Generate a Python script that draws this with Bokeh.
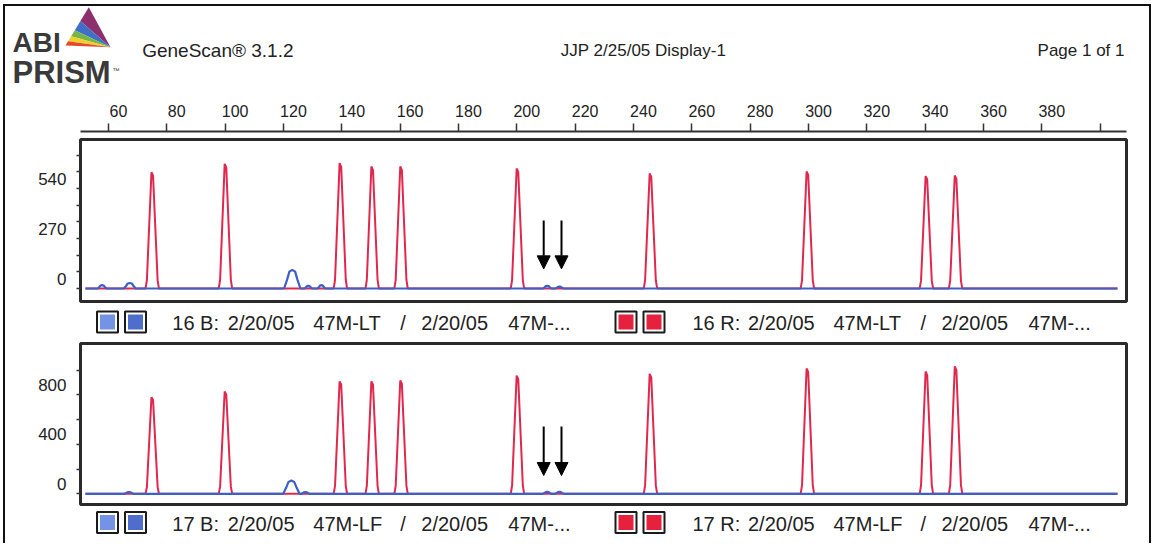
from bokeh.plotting import figure
from bokeh.layouts import column, row
from bokeh.models import Range1d, LinearAxis, FixedTicker, Arrow, NormalHead
from bokeh.core.properties import value
from bokeh.embed import file_html
from bokeh.resources import INLINE

# ---------------- data ----------------
size_ticks = [60, 80, 100, 120, 140, 160, 180, 200, 220, 240, 260, 280, 300,
              320, 340, 360, 380, 400]
size_tick_labels = [60, 80, 100, 120, 140, 160, 180, 200, 220, 240, 260, 280,
                    300, 320, 340, 360, 380]

# red (size standard) peaks: size in bp, height in RFU
red_sizes = [75.0, 100.1, 139.5, 150.4, 160.3, 200.2, 245.8, 299.6, 340.4, 350.4]
red_heights_16 = [628, 673, 677, 659, 659, 648, 621, 632, 607, 610]
red_heights_17 = [781, 827, 909, 909, 916, 956, 970, 1013, 989, 1030]

# blue peaks
blue_sizes_16 = [57.8, 67.3, 123.0, 128.5, 133.0, 210.4, 214.6]
blue_heights_16 = [18, 30, 101, 14, 18, 14, 10]
blue_widths_16 = [1.5, 2.0, 2.8, 1.3, 1.3, 1.4, 1.4]

blue_sizes_17 = [67.0, 122.7, 127.5, 210.4, 214.6]
blue_heights_17 = [14, 107, 14, 16, 16]
blue_widths_17 = [1.5, 2.8, 1.3, 1.4, 1.4]

red_width = 2.3
trace_range = [52.1, 405.9]

y16_major = [0, 270, 540]
y16_minor = [90, 180, 360, 450, 630, 720]
y17_major = [0, 400, 800]
y17_minor = [200, 600, 1000]

arrow_sizes = [209.2, 215.3]
arrow_16 = [367, 106]   # top, tip
arrow_17 = [544, 148]

header_left = "GeneScan\u00ae 3.1.2"
header_mid = "JJP 2/25/05 Display-1"
header_right = "Page 1 of 1"

blue_label_16 = ["16 B:", "2/20/05", "47M-LT", "/", "2/20/05", "47M-..."]
red_label_16 = ["16 R:", "2/20/05", "47M-LT", "/", "2/20/05", "47M-..."]
blue_label_17 = ["17 B:", "2/20/05", "47M-LF", "/", "2/20/05", "47M-..."]
red_label_17 = ["17 R:", "2/20/05", "47M-LF", "/", "2/20/05", "47M-..."]

# ---------------- styles ----------------
W = 1153
BL, BR = 80, 27          # panel borders (frame from x=80 to x=1126)
RED = "#e0284e"
BLUE = "#3c61c6"
INK = "#222222"
TICK = "#333333"
FRAME = "#2a2a2a"
FONT = "Liberation Sans"
X_RANGE = Range1d(50.4, 409.0)
X_LABEL_SHIFT = 3.4      # labels sit ~10px right of their ticks

RED_PROFILE = [(-1.0, 0.0), (-0.8, 0.07), (-0.12, 1.0), (0.12, 0.97), (0.8, 0.07), (1.0, 0.0)]
BLUE_PROFILE = [(-1.0, 0.0), (-0.65, 0.45), (-0.35, 0.9), (0.0, 1.0), (0.35, 0.9), (0.65, 0.45), (1.0, 0.0)]


def trace(sizes, heights, widths, profile):
    xs, ys = [trace_range[0]], [0]
    for s, h, w in sorted(zip(sizes, heights, widths)):
        for dx, fy in profile:
            xs.append(s + dx * w)
            ys.append(h * fy)
    xs.append(trace_range[1])
    ys.append(0)
    return xs, ys


def base_fig(height, x_range, y_range, **kw):
    p = figure(width=W, height=height, x_range=x_range, y_range=y_range,
               output_backend="svg", toolbar_location=None,
               x_axis_location=None, y_axis_location=None, **kw)
    p.grid.visible = False
    p.background_fill_color = None
    p.border_fill_color = None
    return p


def tick_axis(ticks, minor, tick_len, **kw):
    # ticks (and line) only; its labels are empty and not drawn
    return LinearAxis(ticker=FixedTicker(ticks=ticks, minor_ticks=minor),
                      major_tick_out=tick_len, major_tick_in=0,
                      minor_tick_out=tick_len, minor_tick_in=0,
                      major_label_overrides={t: "" for t in ticks},
                      major_label_text_color=None, major_label_text_font_size="1px",
                      major_label_standoff=0,
                      major_tick_line_color=TICK, minor_tick_line_color=TICK,
                      major_tick_line_width=1.5, minor_tick_line_width=1.5, **kw)


def label_axis(values, shift, standoff, size="16px"):
    # labels only, drawn next to (but offset from) their ticks
    pos = [v + shift for v in values]
    return LinearAxis(ticker=FixedTicker(ticks=pos, minor_ticks=[]),
                      major_tick_out=0, major_tick_in=0, minor_tick_out=0, minor_tick_in=0,
                      major_tick_line_color=None, minor_tick_line_color=None,
                      axis_line_color=None, major_label_standoff=standoff,
                      major_label_overrides={q: str(v) for q, v in zip(pos, values)},
                      major_label_text_font=FONT, major_label_text_font_size=size,
                      major_label_text_color=INK)


# ---------------- header (page pixel coordinates) ----------------
HH = 95
ph = base_fig(HH, Range1d(0, W), Range1d(HH, 0), min_border=0)
ph.outline_line_color = None
apex, bl, br = (88.3, 6.7), (65.0, 45.0), (110.0, 46.7)
fr = [0, 0.36, 0.6, 0.76, 0.89, 1.0]
pts = [(apex[0] + f * (bl[0] - apex[0]), apex[1] + f * (bl[1] - apex[1])) for f in fr]
wx = [[br[0], pts[i][0], pts[i + 1][0]] for i in range(5)]
wy = [[br[1], pts[i][1], pts[i + 1][1]] for i in range(5)]
ph.patches(wx, wy, fill_color=["#8c2f6f", "#3f6fc6", "#76b548", "#f2d02c", "#e5492b"],
           line_color=None)
ph.text(x=[12], y=[42], text=["ABI"], text_font=value(FONT), text_font_size="28px",
        text_font_style="bold", text_color="#3a3a3a", text_baseline="alphabetic")
ph.text(x=[12], y=[72], text=["PRISM"], text_font=value(FONT), text_font_size="31px",
        text_font_style="bold", text_color="#3a3a3a", text_baseline="alphabetic")
ph.text(x=[112], y=[70], text=["\u2122"], text_font=value(FONT), text_font_size="7px",
        text_color="#3a3a3a", text_baseline="alphabetic")
ph.text(x=[141.7], y=[49.5], text=[header_left], text_font=value(FONT),
        text_font_size="19px", text_color=INK, text_baseline="alphabetic")
ph.text(x=[643], y=[50], text=[header_mid], text_font=value(FONT),
        text_font_size="17px", text_color=INK, text_baseline="alphabetic", text_align="center")
ph.text(x=[1124], y=[50], text=[header_right], text_font=value(FONT),
        text_font_size="17px", text_color=INK, text_baseline="alphabetic", text_align="right")

# ---------------- top size axis ----------------
pa = base_fig(42, X_RANGE, Range1d(0, 1), min_border_left=BL, min_border_right=BR,
              min_border_top=36, min_border_bottom=0)
pa.outline_line_color = None
pa.add_layout(tick_axis(size_ticks, [], 8, axis_line_width=2, axis_line_color=TICK), "above")
pa.add_layout(label_axis(size_tick_labels, X_LABEL_SHIFT, 7), "above")


# ---------------- panels ----------------
def panel(height, y0, y1, major, minor, lab_shift, red_h, bsz, bh, bw, arrow_y):
    p = base_fig(height, X_RANGE, Range1d(y0, y1), min_border_left=BL, min_border_right=BR,
                 min_border_top=2, min_border_bottom=2)
    p.outline_line_color = FRAME
    p.outline_line_width = 3
    p.add_layout(tick_axis(major, minor, 4, axis_line_color=None), "left")
    p.add_layout(label_axis(major, lab_shift, 10, "17px"), "left")
    rx, ry = trace(red_sizes, red_h, [red_width] * len(red_sizes), RED_PROFILE)
    p.line(rx, ry, line_color=RED, line_width=2)
    bx, by = trace(bsz, bh, bw, BLUE_PROFILE)
    p.line(bx, by, line_color=BLUE, line_width=2.2)
    for xa in arrow_sizes:
        p.add_layout(Arrow(end=NormalHead(size=13, fill_color="black", line_color="black",
                                          line_width=1),
                           x_start=xa, y_start=arrow_y[0], x_end=xa, y_end=arrow_y[1],
                           line_color="black", line_width=2))
    return p


p1 = panel(166, -70.2, 804.6, y16_major, y16_minor, 50, red_heights_16,
           blue_sizes_16, blue_heights_16, blue_widths_16, arrow_16)
p2 = panel(165, -86.5, 1215, y17_major, y17_minor, 80, red_heights_17,
           blue_sizes_17, blue_heights_17, blue_widths_17, arrow_17)

# ---------------- legend rows (page pixel x coordinates) ----------------
SEG_OFF = [0, 55.5, 141, 228, 249, 336]


def legend_row(height, yc, blue_lab, red_lab):
    p = base_fig(height, Range1d(0, W), Range1d(height, 0), min_border=0)
    p.outline_line_color = None
    sq_x = [107, 135, 625.5, 653.5]
    sq_c = ["#7394e4", "#4e6dcc", "#e5213d", "#e5213d"]
    p.rect(sq_x, [yc] * 4, width=21, height=21, width_units="screen",
           height_units="screen", fill_color="white", line_color="#1a1a1a", line_width=2)
    p.rect(sq_x, [yc] * 4, width=15, height=15, width_units="screen",
           height_units="screen", fill_color=sq_c, line_color=None)
    xs = [171.8 + o for o in SEG_OFF] + [692 + o for o in SEG_OFF]
    p.text(xs, [yc + 1] * len(xs), text=blue_lab + red_lab, text_font=value(FONT),
           text_font_size="20px", text_color=INK, text_baseline="middle")
    return p


l1 = legend_row(38, 18.5, blue_label_16, red_label_16)
l2 = legend_row(37, 16, blue_label_17, red_label_17)

border = ("inset 3px 0 0 0 #ffffff, inset 0 4px 0 0 #ffffff, inset -2px 0 0 0 #ffffff, "
          "inset 5px 0 0 0 #111111, inset 0 6px 0 0 #111111, inset -4px 0 0 0 #111111")
page = column(row(ph), pa, p1, row(l1), p2, row(l2), spacing=0,
              styles={"box-shadow": border})

open("out.html", "w").write(file_html(page, INLINE))
